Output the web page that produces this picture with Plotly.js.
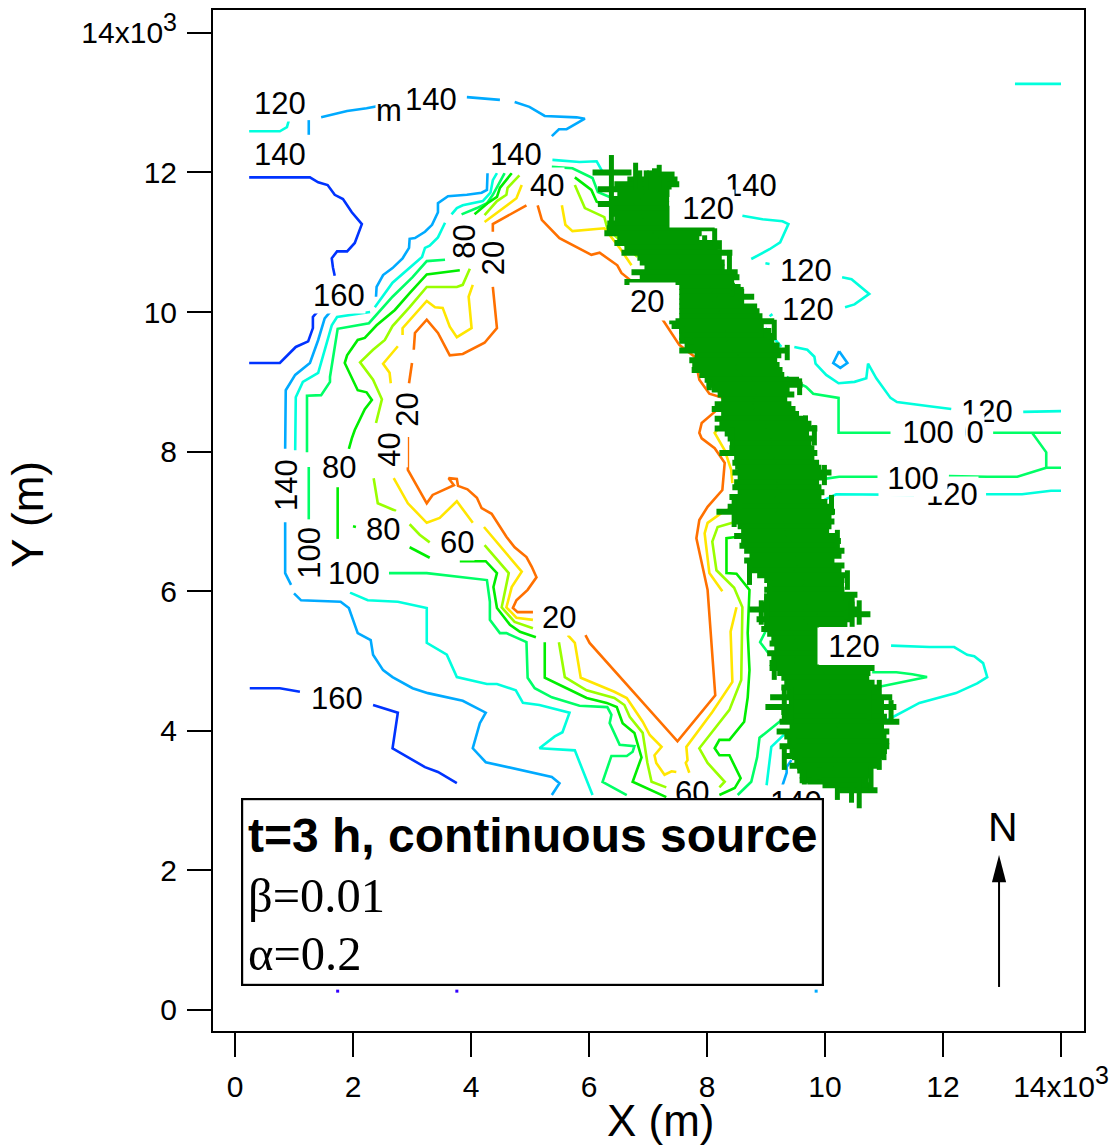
<!DOCTYPE html>
<html><head><meta charset="utf-8">
<script src="https://cdn.plot.ly/plotly-3.0.1.min.js"></script>
<style>html,body{margin:0;padding:0;background:#fff}#c{width:1113px;height:1145px}</style>
</head><body><div id="c"></div>
<script>
// All coordinates are in thousands of metres (axis multiplier x10^3). null = break in a contour.
const _=null;
const tickVals=[0,2,4,6,8,10,12,14];
const xTickText=['0','2','4','6','8','10','12','14x10<sup><span style="font-size:25px">3</span></sup>'];
const yTickText=['0','2','4','6','8','10','12','14x10<sup><span style="font-size:25px">3</span></sup>'];

const level160X=[.24,1.27,1.41,1.57,1.69,1.83,1.98,2.15,2.03,1.90,1.73,1.64,1.66,1.69,_,1.39,1.32,1.32,1.24,1.03,.76,.24,_,.25,.76,1.10,_,2.34,2.76,2.67,3.22,3.44,3.76,_,9.65,9.70,9.79];
const level160Y=[11.93,11.93,11.86,11.82,11.68,11.62,11.43,11.26,10.99,10.87,10.87,10.77,10.64,10.52,_,10.0,9.93,9.77,9.58,9.50,9.27,9.27,_,4.61,4.61,4.56,_,4.37,4.26,3.75,3.48,3.41,3.25,_,3.22,3.34,3.32];

const level140X=[1.25,1.25,_,1.46,1.90,2.23,2.67,_,3.93,4.49,_,4.74,4.99,5.25,5.79,5.93,5.62,5.49,5.37,_,
 4.28,4.27,4.18,3.93,3.61,3.44,3.44,3.34,3.22,3.05,2.96,2.95,2.84,2.67,2.51,2.40,2.39,_,
 1.61,1.52,1.41,1.27,1.02,.86,.85,_,.85,.85,.95,_,
 1.0,1.12,1.79,1.93,2.08,2.30,2.34,2.51,2.67,3.01,3.27,3.86,4.25,4.15,4.03,4.25,5.37,5.50,5.37,_,
 10.24,10.38,10.26,10.14,10.24,_,9.43,9.35,9.35,9.28];
const level140Y=[12.75,12.54,_,12.79,12.88,12.92,12.99,_,13.08,13.04,_,13.01,12.94,12.81,12.79,12.77,12.62,12.62,12.52,_,
 11.99,11.75,11.71,11.68,11.66,11.56,11.43,11.25,11.15,11.06,11.05,10.92,10.77,10.63,10.53,10.36,10.22,_,
 10.0,9.91,9.60,9.27,9.10,8.88,8.04,_,6.99,6.26,6.09,_,
 5.97,5.87,5.85,5.76,5.40,5.30,5.09,4.87,4.77,4.61,4.54,4.43,4.26,4.11,3.75,3.55,3.34,3.25,3.08,_,
 9.44,9.27,9.20,9.27,9.44,_,3.58,3.48,3.40,3.22];

const level120X=[.24,.76,.88,.91,_,4.44,4.37,4.33,4.20,3.86,3.76,3.67,_,3.56,3.44,3.30,3.22,3.17,2.91,2.67,2.37,_,
 2.29,1.73,1.64,1.41,1.15,1.03,1.02,_,
 1.95,2.25,2.76,3.25,3.25,3.59,3.76,4.27,4.44,4.76,4.88,5.16,5.67,5.55,5.42,5.16,5.76,5.89,6.06,_,
 5.38,5.84,6.13,6.23,_,8.60,8.94,9.28,9.38,9.24,9.06,8.75,_,8.99,9.06,_,10.29,10.45,10.75,10.50,10.34,_,9.06,9.11,_,8.99,9.26,_,
 9.48,9.70,9.82,9.84,10.02,10.23,10.50,10.70,10.73,10.87,11.11,11.22,11.77,12.14,_,13.36,14.0,_,
 9.99,10.19,11.51,_,12.73,13.34,13.83,14.0,_,13.22,14.0,_,
 11.12,11.77,12.19,12.41,12.53,12.68,12.75,12.58,12.22,11.60,11.38,11.0,_,9.31,9.09,9.01];
const level120Y=[12.59,12.59,12.65,12.74,_,11.99,11.89,11.71,11.59,11.53,11.49,11.40,_,11.28,11.07,10.95,10.92,10.79,10.60,10.42,10.07,_,
 10.0,9.93,9.81,9.13,9.0,8.78,8.02,_,
 5.98,5.87,5.85,5.76,5.26,5.09,4.77,4.67,4.67,4.58,4.40,4.37,4.26,3.98,3.92,3.75,3.72,3.44,3.08,_,
 12.18,12.15,12.16,12.01,_,11.38,11.33,11.30,11.26,11.0,10.90,10.76,_,10.70,10.69,_,10.50,10.47,10.26,10.11,10.07,_,9.94,9.97,_,9.77,9.50,_,
 9.50,9.46,9.36,9.26,9.10,8.98,9.0,9.05,9.26,9.05,8.77,8.71,8.65,8.61,_,8.57,8.58,_,
 7.31,7.39,7.38,_,7.39,7.39,7.44,7.44,_,13.27,13.27,_,
 5.22,5.20,5.20,5.09,5.07,4.97,4.77,4.68,4.54,4.40,4.30,4.13,_,3.95,3.77,3.22];

const level100X=[5.37,5.72,6.06,6.15,6.40,_,4.57,4.44,4.37,4.27,4.10,3.84,_,3.56,3.25,3.01,2.67,2.27,1.74,1.61,1.61,1.46,1.22,1.22,_,1.25,1.25,_,
 2.61,3.25,4.27,4.32,4.32,4.49,4.60,4.94,4.96,5.08,5.37,5.84,6.31,6.38,6.35,6.52,6.77,6.74,6.64,6.38,6.23,6.64,_,
 9.35,9.68,9.80,10.23,10.23,11.14,_,12.85,13.51,14.0,_,13.51,13.75,13.75,14.0,_,13.75,13.26,12.75,12.10,_,10.89,10.24,9.99,_,
 10.80,11.21,11.48,11.73,10.92,_,9.26,8.89,8.85,8.75,8.52,_,9.02,8.90,9.06];
const level100Y=[12.08,12.06,11.92,11.72,11.63,_,11.99,11.79,11.68,11.56,11.49,11.40,_,10.75,10.73,10.50,10.22,9.84,9.76,9.07,9.0,8.81,8.80,7.99,_,7.78,7.03,_,
 6.26,6.26,6.16,5.85,5.59,5.40,5.40,5.27,4.76,4.61,4.48,4.36,4.34,4.23,4.11,3.80,3.78,3.70,3.64,3.64,3.27,3.08,_,
 9.07,8.93,8.83,8.77,8.27,8.27,_,8.27,8.27,8.27,_,8.27,7.99,7.77,7.77,_,7.77,7.64,7.64,7.65,_,7.64,7.64,7.61,_,
 4.84,4.84,4.81,4.77,4.63,_,4.15,3.90,3.62,3.27,3.08,_,5.47,5.27,5.09];

const level80X=[5.76,6.04,6.13,6.47,_,4.69,4.49,4.44,4.28,4.06,_,
 3.81,3.25,2.96,2.71,2.40,2.20,2.08,1.90,1.86,1.98,2.08,2.23,2.32,2.20,2.03,1.98,1.93,_,1.74,1.74,_,2.0,2.05,_,2.96,3.30,_,
 3.81,4.25,4.44,4.38,4.44,4.66,4.83,5.10,_,5.25,5.25,5.62,5.96,6.30,6.47,6.57,6.77,6.89,6.74,7.31,_,
 8.52,8.33,8.33,8.50,8.72,8.69,8.72,8.69,8.63,8.38,8.21,8.13,8.21,8.38,8.57,8.47,8.21];
const level80Y=[11.93,11.75,11.58,11.49,_,11.99,11.78,11.65,11.56,11.40,_,
 10.60,10.54,10.27,10.03,9.81,9.63,9.60,9.38,9.27,9.07,8.88,8.85,8.74,8.61,8.31,8.19,8.04,_,7.49,6.75,_,6.93,6.92,_,6.63,6.48,_,
 6.43,6.43,6.26,6.06,5.76,5.52,5.42,5.34,_,5.27,4.76,4.61,4.47,4.40,4.34,4.11,3.97,3.62,3.27,3.05,_,
 6.78,6.76,6.26,6.25,6.02,5.40,4.87,4.48,4.13,3.87,3.87,3.75,3.65,3.65,3.32,3.18,3.08];

const level60X=[5.76,5.93,6.26,6.31,6.82,_,4.82,4.62,4.60,4.44,4.23,_,
 3.98,3.86,3.76,3.25,2.96,2.67,2.54,2.34,2.12,2.34,2.49,2.39,_,2.35,2.42,2.73,_,2.96,3.13,3.30,_,
 4.23,4.64,4.52,4.74,5.05,_,5.49,5.59,5.96,6.43,6.60,6.69,6.91,6.99,7.06,7.31,_,
 8.43,8.18,8.09,8.16,8.46,8.60,8.58,8.38,7.87,8.01,8.30,8.21];
const level60Y=[11.82,11.49,11.36,11.20,10.79,_,11.96,11.78,11.68,11.59,11.39,_,
 10.62,10.39,10.36,10.36,10.07,9.80,9.60,9.46,9.28,9.03,8.75,8.41,_,7.62,7.26,7.15,_,6.96,6.81,6.70,_,
 6.66,6.26,5.77,5.56,5.47,_,5.27,4.77,4.58,4.47,4.37,4.20,3.97,3.54,3.27,3.19,_,
 6.98,6.92,6.71,6.30,6.05,5.77,4.73,4.30,3.75,3.54,3.27,3.19];

const level40X=[5.54,5.60,5.72,6.26,6.52,6.72,_,4.86,4.77,4.23,_,4.03,3.96,4.01,3.76,3.64,3.52,3.39,3.25,2.84,2.84,_,2.76,2.51,2.62,2.64,_,
 2.69,2.93,3.25,3.47,3.76,4.03,_,4.22,4.86,4.69,4.60,4.77,5.05,_,
 5.64,5.76,5.86,6.43,6.64,6.91,7.03,7.23,7.11,7.14,7.28,7.40,7.48,_,
 7.70,7.64,7.67,7.65,8.09,8.43,8.40,8.50,_,8.26,8.04,7.96,8.01,8.26,8.58,_,8.25,8.13,8.30,8.41,8.43];
const level40Y=[11.53,11.25,11.16,11.20,10.92,10.67,_,11.82,11.63,11.29,_,10.39,10.22,9.77,9.64,9.79,10.06,10.07,10.16,9.77,9.67,_,9.51,9.26,9.13,8.98,_,
 7.62,7.26,6.98,7.05,7.29,6.98,_,6.92,6.28,6.06,5.77,5.62,5.59,_,
 5.37,5.26,4.76,4.56,4.47,4.13,3.94,3.77,3.65,3.54,3.37,3.42,3.41,_,
 3.40,3.54,3.58,3.77,4.27,4.70,5.42,5.77,_,6.0,6.26,6.83,6.98,7.13,7.26,_,8.38,8.27,8.02,7.74,7.55];

const level20X=[4.94,4.37,4.37,_,4.37,4.44,4.23,3.86,3.64,3.44,3.25,3.05,3.03,_,3.0,2.95,_,
 2.93,2.93,3.25,3.35,3.71,3.62,3.76,3.78,3.94,4.10,4.18,4.35,4.60,4.74,4.94,5.03,5.11,4.96,4.77,4.71,4.79,5.05,_,
 5.13,5.20,5.50,6.04,6.18,6.48,6.55,6.74,7.25,7.53,7.79,7.87,8.04,8.35,8.13,7.91,7.87,7.91,8.13,8.30,8.26,8.01,7.87,7.82,8.01,8.14,7.50,6.01,5.94];
const level20Y=[11.53,11.26,11.15,_,10.36,9.77,9.56,9.40,9.38,9.70,9.89,9.70,9.46,_,9.27,8.98,_,
 8.21,7.74,7.26,7.38,7.52,7.62,7.61,7.51,7.46,7.34,7.19,7.11,6.78,6.63,6.49,6.35,6.20,6.02,5.87,5.76,5.70,5.70,_,
 11.53,11.32,11.06,10.82,10.85,10.67,10.56,10.43,9.89,9.53,9.36,9.03,8.83,8.75,8.57,8.41,8.27,8.19,8.05,7.84,7.45,7.21,7.02,6.76,6.02,4.51,3.85,5.26,5.37];

// stray single contour dots along the bottom
const dotX=[1.74,3.76,9.85];
const dotY=[.27,.27,.27];

// green source crosses: horizontal extent per row
const bandY=[12.0,11.97,11.9,11.83,11.76,11.69,11.62,11.55,11.48,11.41,11.34,11.27,11.2,11.13,11.06,10.99,10.92,10.85,10.78,10.71,10.64,10.57,10.5,10.43,10.36,10.29,10.22,10.15,10.08,10.01,9.94,9.87,9.80,9.73,9.66,9.59,9.52,9.45,9.38,9.31,9.24,9.17,9.10,9.03,8.96,8.89,8.82,8.75,8.68,8.61,8.54,8.47,8.40,8.33,8.26,8.19,8.12,8.05,7.98,7.91,7.84,7.77,7.70,7.63,7.56,7.49,7.42,7.35,7.28,7.21,7.14,7.07,7.00,6.93,6.86,6.79,6.72,6.65,6.58,6.51,6.44,6.37,6.30,6.23,6.16,6.09,6.02,5.95,5.88,5.81,5.74,5.67,5.60,5.53,5.46,5.39,5.32,5.25,5.18,5.11,5.04,4.97,4.90,4.83,4.76,4.69,4.62,4.55,4.48,4.41,4.34,4.27,4.20,4.13,4.06,3.99,3.92,3.85,3.78,3.71,3.64,3.57,3.50,3.43,3.36,3.29,3.22,3.15];
const bandLeft=[6.06,7.2,6.65,6.43,6.15,6.48,6.38,6.15,6.38,6.35,6.43,6.31,6.30,6.26,6.48,6.43,6.60,6.55,6.82,6.86,6.94,6.72,6.86,6.60,7.53,7.53,7.53,7.53,7.53,7.53,7.53,7.36,7.40,7.53,7.57,7.53,7.62,7.53,7.79,7.70,7.75,7.74,7.87,7.96,7.99,8.08,8.18,8.24,8.13,8.08,8.24,8.13,8.21,8.13,8.30,8.35,8.43,8.38,8.21,8.46,8.43,8.52,8.43,8.52,8.46,8.43,8.52,8.38,8.43,8.35,8.16,8.46,8.46,8.52,8.58,8.46,8.58,8.55,8.63,8.72,8.63,8.72,8.68,8.85,8.97,9.02,8.97,9.02,8.97,8.89,8.72,8.97,8.84,9.02,8.92,9.02,9.09,9.06,9.14,9.02,9.09,9.06,9.06,9.19,9.26,9.31,9.26,9.36,9.07,9.40,8.99,9.26,9.31,9.23,9.40,9.18,9.31,9.36,9.23,9.40,9.28,9.48,9.40,9.53,9.57,9.57,9.70,10.24];
const bandRight=[6.72,7.45,7.50,7.53,7.40,7.40,7.36,7.36,7.40,7.40,7.40,7.40,8.13,7.91,7.87,8.13,8.18,8.43,8.25,8.30,8.30,8.52,8.55,8.46,8.57,8.63,8.80,8.63,8.85,8.89,8.94,9.14,8.94,9.09,9.06,9.14,9.23,9.36,9.26,9.19,9.23,9.28,9.31,9.56,9.62,9.40,9.48,9.36,9.43,9.50,9.56,9.65,9.77,9.87,9.73,9.82,9.77,9.82,9.87,9.82,9.90,9.94,10.11,9.99,9.90,9.94,9.99,9.94,10.04,10.07,10.17,10.11,10.16,10.11,10.07,10.21,10.27,10.24,10.33,10.28,10.16,10.33,10.28,10.38,10.33,10.24,10.33,10.55,10.45,10.50,10.58,10.77,10.45,10.38,9.9,9.9,9.9,9.9,9.9,9.9,9.9,9.9,10.84,10.77,10.75,10.84,10.92,10.95,11.14,11.0,11.21,11.0,11.05,11.26,11.0,11.09,11.0,11.09,11.09,11.05,11.0,10.92,10.89,10.75,10.78,10.67,10.75,10.89];
// green source crosses: vertical arms sticking out of the band
const spikeX=[6.38,6.79,7.03,7.11,7.19,6.97,6.86,7.28,8.13,7.96,8.21,8.38,8.43,8.58,8.92,9.06,7.74,7.57,7.84,8.13,8.04,8.52,8.43,8.46,8.55,9.06,9.01,10.28,10.46,10.36,9.31,9.43,9.48,9.57,10.21,10.45,10.58,10.70,9.90,
 9.14,9.36,9.57,9.67,9.82,9.99,10.11,10.21,10.38,10.58,10.75,10.92,11.12,11.0,10.92,10.78,8.63,8.72,8.92,9.14,9.40,9.31,9.65,9.82];
const spikeTop=[12.25,12.14,12.03,12.06,12.11,12.03,12.03,11.92,11.20,11.10,11.03,10.89,10.42,10.36,9.89,9.70,9.71,9.79,9.41,9.03,9.03,8.07,8.35,7.35,7.38,6.16,5.97,6.19,5.92,5.87,4.63,4.63,3.91,3.62,3.19,3.19,3.30,3.40,3.48,
 9.89,9.53,9.05,8.52,8.38,7.81,7.38,6.88,6.30,5.87,4.58,4.73,4.44,4.01,3.80,3.51,6.95,6.45,5.87,5.01,4.73,3.80,3.44,3.37];
const spikeBottom=[11.10,11.75,11.75,11.75,11.75,11.75,11.75,11.75,10.96,10.89,10.89,10.60,10.22,10.17,9.64,9.50,9.53,9.60,9.13,8.88,8.88,7.74,7.98,6.92,7.02,5.77,5.49,5.92,5.49,5.59,4.11,4.11,3.58,3.44,3.01,2.97,2.89,3.25,3.30,
 9.60,9.31,8.81,8.24,8.09,7.52,7.09,6.59,6.02,5.52,4.15,4.44,4.15,3.58,3.44,3.15,6.66,6.09,5.52,4.73,4.44,3.44,3.15,3.08];

// contour labels, back to front
const labelText=['120','m','140','140','140','40','140','120','80','20','120','160','120','20','20','120','100','100','40','140','80','120','100','80','60','100','100','20','120','160','60','140'];
const labelX=[.76,2.61,3.32,.76,4.76,5.28,8.75,7.92,3.89,4.37,9.67,1.76,9.72,7.07,2.93,12.75,12.26,11.75,2.62,.86,1.76,12.16,11.50,2.51,3.76,1.27,2.01,5.49,10.50,1.73,7.74,9.51];
const labelY=[12.99,12.89,13.05,12.26,12.26,11.81,11.81,11.48,11.0,10.77,10.59,10.24,10.04,10.15,8.60,8.58,8.27,8.27,8.02,7.52,7.77,7.38,7.62,6.89,6.70,6.55,6.26,5.62,5.22,4.47,3.12,2.97];
const labelAngle=[0,0,0,0,0,0,0,0,-90,-90,0,0,0,0,-90,0,0,0,-90,-90,0,0,0,0,0,-90,0,0,0,0,0,0];
const labelWidth=[0,0,0,0,0,0,0,64,0,0,0,0,0,45,0,0,0,74,0,0,0,0,68,0,0,0,0,0,72,0,0,0];
const labelHeight=[0,0,0,0,0,0,0,37,0,0,0,0,0,37,0,0,0,0,0,0,0,0,0,0,0,0,0,0,36,0,0,0];
const labelAlign=['center','center','center','center','center','center','center','right','center','center','center','center','center','left','center','center','center','center','center','center','center','center','center','center','center','center','center','center','center','center','center','center'];

const levelColors={20:'#ff7000',40:'#ffe600',60:'#99ff00',80:'#00ee00',100:'#00ff66',120:'#00ffdd',140:'#00aaff',160:'#0033ff'};
const BAND='#009900', SANS='"Liberation Sans", Arial, sans-serif', SERIF='"Liberation Serif", "Times New Roman", serif';

function contour(level,x,y){return {type:'scatter',mode:'lines',name:String(level),x:x,y:y,connectgaps:false,
  line:{color:levelColors[level],width:2.6,shape:'linear'},hoverinfo:'skip'};}

const traces=[
 contour(160,level160X,level160Y),contour(140,level140X,level140Y),contour(120,level120X,level120Y),
 contour(100,level100X,level100Y),contour(80,level80X,level80Y),contour(60,level60X,level60Y),
 contour(40,level40X,level40Y),contour(20,level20X,level20Y),
 {type:'scatter',mode:'markers',x:dotX,y:dotY,marker:{symbol:'square',size:3,color:['#3300ff','#3300ff',levelColors[140]]},hoverinfo:'skip'},
 {type:'scatter',mode:'markers',name:'source',x:bandLeft.map((l,i)=>(l+bandRight[i])/2),y:bandY,marker:{size:1,color:BAND},
  error_x:{type:'data',symmetric:true,array:bandLeft.map((l,i)=>(bandRight[i]-l)/2),color:BAND,thickness:6,width:0},hoverinfo:'skip'},
 {type:'scatter',mode:'markers',name:'source arms',x:spikeX,y:spikeTop.map((t,i)=>(t+spikeBottom[i])/2),marker:{size:1,color:BAND},
  error_y:{type:'data',symmetric:true,array:spikeTop.map((t,i)=>(t-spikeBottom[i])/2),color:BAND,thickness:5,width:0},hoverinfo:'skip'}
];

const annotations=labelText.map((t,i)=>{
  const a={text:t,x:labelX[i],y:labelY[i],xref:'x',yref:'y',showarrow:false,textangle:labelAngle[i],
    font:{family:SANS,size:31,color:'#000'},bgcolor:'#fff',borderpad:0,align:labelAlign[i]};
  if(labelWidth[i])a.width=labelWidth[i];
  if(labelHeight[i])a.height=labelHeight[i];
  return a;});
annotations.push(
 {text:'&nbsp;',x:5.04,y:1.69,xref:'x',yref:'y',showarrow:false,width:579,height:184,bgcolor:'#fff',bordercolor:'#000',borderwidth:2.2,borderpad:0},
 {text:'<b>t=3 h, continuous source</b>',x:.18,y:2.50,xref:'x',yref:'y',xanchor:'left',showarrow:false,font:{family:SANS,size:48,color:'#000'}},
 {text:'β=0.01',x:.18,y:1.64,xref:'x',yref:'y',xanchor:'left',showarrow:false,font:{family:SERIF,size:48.5,color:'#000'}},
 {text:'α=0.2',x:.18,y:.81,xref:'x',yref:'y',xanchor:'left',showarrow:false,font:{family:SERIF,size:48.5,color:'#000'}},
 {text:'N',x:13.02,y:2.62,xref:'x',yref:'y',showarrow:false,font:{family:SANS,size:41,color:'#000'}}
);

// north arrow: shaft and a narrow solid head, in axis units
const arrowShapes=[
 {type:'line',xref:'x',yref:'y',x0:12.95,x1:12.95,y0:.33,y1:1.9,layer:'above',line:{color:'#000',width:2}},
 {type:'path',xref:'x',yref:'y',path:'M 12.95 2.22 L 12.83 1.83 L 13.07 1.83 Z',fillcolor:'#000',layer:'above',line:{color:'#000',width:0}}
];

const axisCommon={showgrid:false,zeroline:false,showline:true,mirror:true,linecolor:'#000',linewidth:2,ticks:'outside',ticklen:24,tickwidth:2,tickcolor:'#000',
  ticklabelstandoff:4,tickmode:'array',tickvals:tickVals,tickfont:{family:SANS,size:30,color:'#000'},automargin:false};
const layout={width:1113,height:1145,margin:{l:213,r:29,t:10,b:114,pad:0},paper_bgcolor:'#fff',plot_bgcolor:'#fff',showlegend:false,hovermode:false,
  font:{family:SANS,color:'#000'},
  xaxis:Object.assign({},axisCommon,{range:[-.373,14.39],ticktext:xTickText,title:{text:'&nbsp;&nbsp;X (m)',font:{family:SANS,size:44,color:'#000'},standoff:4}}),
  yaxis:Object.assign({},axisCommon,{range:[-.301,14.328],ticktext:yTickText,title:{text:'&nbsp;Y (m)',font:{family:SANS,size:44,color:'#000'},standoff:24}}),
  shapes:arrowShapes,annotations:annotations};
Plotly.newPlot('c',traces,layout,{displayModeBar:false,staticPlot:true});
</script></body></html>
